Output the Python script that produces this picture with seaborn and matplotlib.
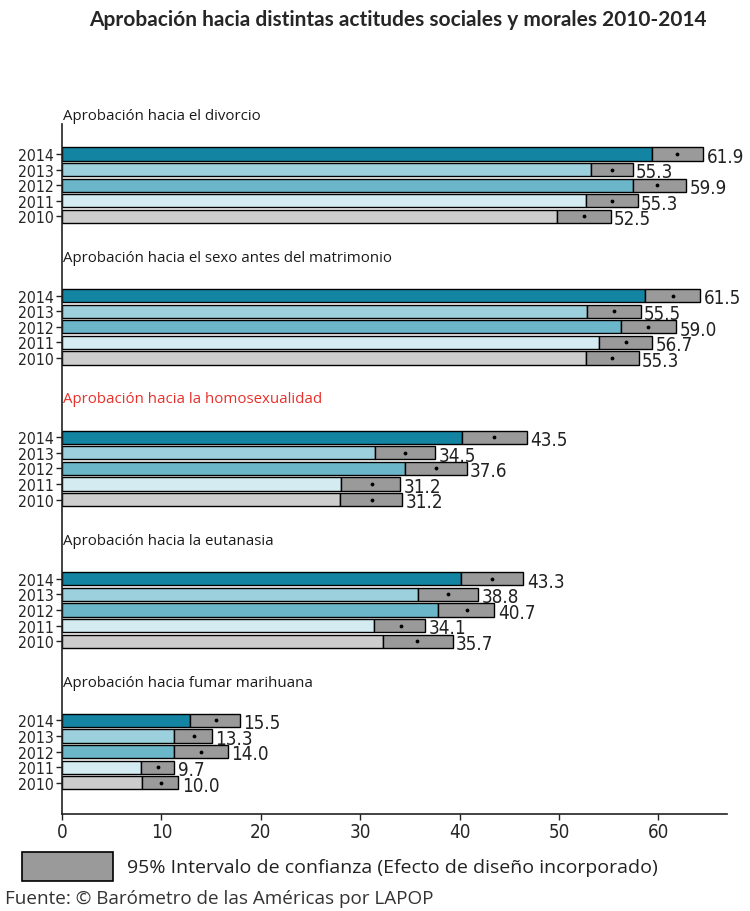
import numpy as np
import pandas as pd
import matplotlib
matplotlib.use("Agg")
import matplotlib.pyplot as plt
from matplotlib.patches import Rectangle
from matplotlib import font_manager
import seaborn as sns

# ---- data -------------------------------------------------------------
themes = [
    "Aprobación hacia el divorcio",
    "Aprobación hacia el sexo antes del matrimonio",
    "Aprobación hacia la homosexualidad",
    "Aprobación hacia la eutanasia",
    "Aprobación hacia fumar marihuana",
]
years = ["2014", "2013", "2012", "2011", "2010"]

# mean approval (%) per theme, ordered 2014 -> 2010
means = [
    [61.9, 55.3, 59.9, 55.3, 52.5],
    [61.5, 55.5, 59.0, 56.7, 55.3],
    [43.5, 34.5, 37.6, 31.2, 31.2],
    [43.3, 38.8, 40.7, 34.1, 35.7],
    [15.5, 13.3, 14.0, 9.7, 10.0],
]
# 95% confidence bounds
lower = [
    [59.4, 53.2, 57.4, 52.7, 49.8],
    [58.7, 52.8, 56.2, 54.0, 52.7],
    [40.2, 31.5, 34.5, 28.1, 28.0],
    [40.1, 35.8, 37.8, 31.4, 32.3],
    [12.9, 11.3, 11.3, 7.9, 8.0],
]
upper = [
    [64.5, 57.4, 62.8, 57.9, 55.2],
    [64.2, 58.2, 61.8, 59.4, 58.0],
    [46.8, 37.5, 40.7, 34.0, 34.2],
    [46.4, 41.9, 43.5, 36.5, 39.3],
    [17.9, 15.1, 16.7, 11.3, 11.7],
]
x_ticks = [0, 10, 20, 30, 40, 50, 60]

year_colors = {"2014": "#1385a3", "2013": "#9dd0dd", "2012": "#6cb6c9",
               "2011": "#d4ecf1", "2010": "#cdcdcd"}
ci_color = "#9a9a9a"

# ---- layout of rows -----------------------------------------------------
group_step = 9.07
first_row = 1.92
rows = []
for g, theme in enumerate(themes):
    base = first_row + g * group_step
    for i, yr in enumerate(years):
        rows.append({"theme": theme, "year": yr, "pos": base + i,
                     "mean": means[g][i], "lower": lower[g][i],
                     "upper": upper[g][i]})
df = pd.DataFrame(rows)

sns.set_style("white")
plt.rcParams["font.family"] = ["Open Sans", "DejaVu Sans"]

# narrow face for the numbers
narrow = font_manager.FontProperties(family="DejaVu Sans", stretch="condensed")
num_font = narrow.copy()
num_font.set_size(13.5)
year_font = narrow.copy()
year_font.set_size(11.3)

fig = plt.figure(figsize=(7.5, 9.12), dpi=100)
ax = fig.add_axes([62 / 750, 1 - 815 / 912, 665 / 750, 690 / 912])

bar_h = 0.85
sns.barplot(data=df, x="lower", y="pos", hue="year", orient="h",
            native_scale=True, palette=year_colors, dodge=False,
            saturation=1, width=bar_h, errorbar=None, edgecolor="black",
            linewidth=1.0, legend=False, ax=ax)

# confidence interval boxes
ax.barh(df["pos"], df["upper"] - df["lower"], left=df["lower"],
        height=bar_h, color=ci_color, edgecolor="black", linewidth=1.0,
        zorder=3)
ax.scatter(df["mean"], df["pos"], s=3, color="black", zorder=4)

for _, r in df.iterrows():
    ax.text(r["upper"] + 0.35, r["pos"] + 0.15, f"{r['mean']:.1f}",
            fontproperties=num_font, va="center", ha="left",
            color="#222222", zorder=5)

for g, theme in enumerate(themes):
    base = first_row + g * group_step
    ax.text(0.15, base - 2.45, theme, fontsize=10.8, va="center",
            ha="left", color="#e8302a" if g == 2 else "#1a1a1a")

ax.set_xlim(0, 66.9)
ax.set_ylim(44.2, 0)
ax.set_xticks(x_ticks)
ax.set_xticklabels([str(t) for t in x_ticks], fontproperties=num_font)
ax.set_yticks(df["pos"])
ax.set_yticklabels(df["year"], fontproperties=year_font)
ax.set_xlabel("")
ax.set_ylabel("")
ax.tick_params(axis="both", direction="out", length=4, width=1,
               color="#222222", left=True, bottom=True, pad=2)
for side in ["top", "right"]:
    ax.spines[side].set_visible(False)
for side in ["left", "bottom"]:
    ax.spines[side].set_color("#222222")
    ax.spines[side].set_linewidth(1.2)

fig.text(398 / 750, 1 - 20 / 912,
         "Aprobación hacia distintas actitudes sociales y morales 2010-2014",
         fontsize=15, fontweight="bold", ha="center", va="center",
         family=["Lato", "DejaVu Sans"])

# legend swatch for the confidence interval
fig.patches.append(Rectangle((22 / 750, 1 - 882 / 912), 91 / 750, 29 / 912,
                             transform=fig.transFigure, facecolor=ci_color,
                             edgecolor="black", linewidth=1.2))
fig.text(127 / 750, 1 - 868 / 912,
         "95% Intervalo de confianza (Efecto de diseño incorporado)",
         fontsize=14, ha="left", va="center", color="#222222")
fig.text(5 / 750, 1 - 899 / 912,
         "Fuente: © Barómetro de las Américas por LAPOP",
         fontsize=13.6, ha="left", va="center", color="#333333")

fig.savefig("out.png", dpi=100, facecolor="white")
